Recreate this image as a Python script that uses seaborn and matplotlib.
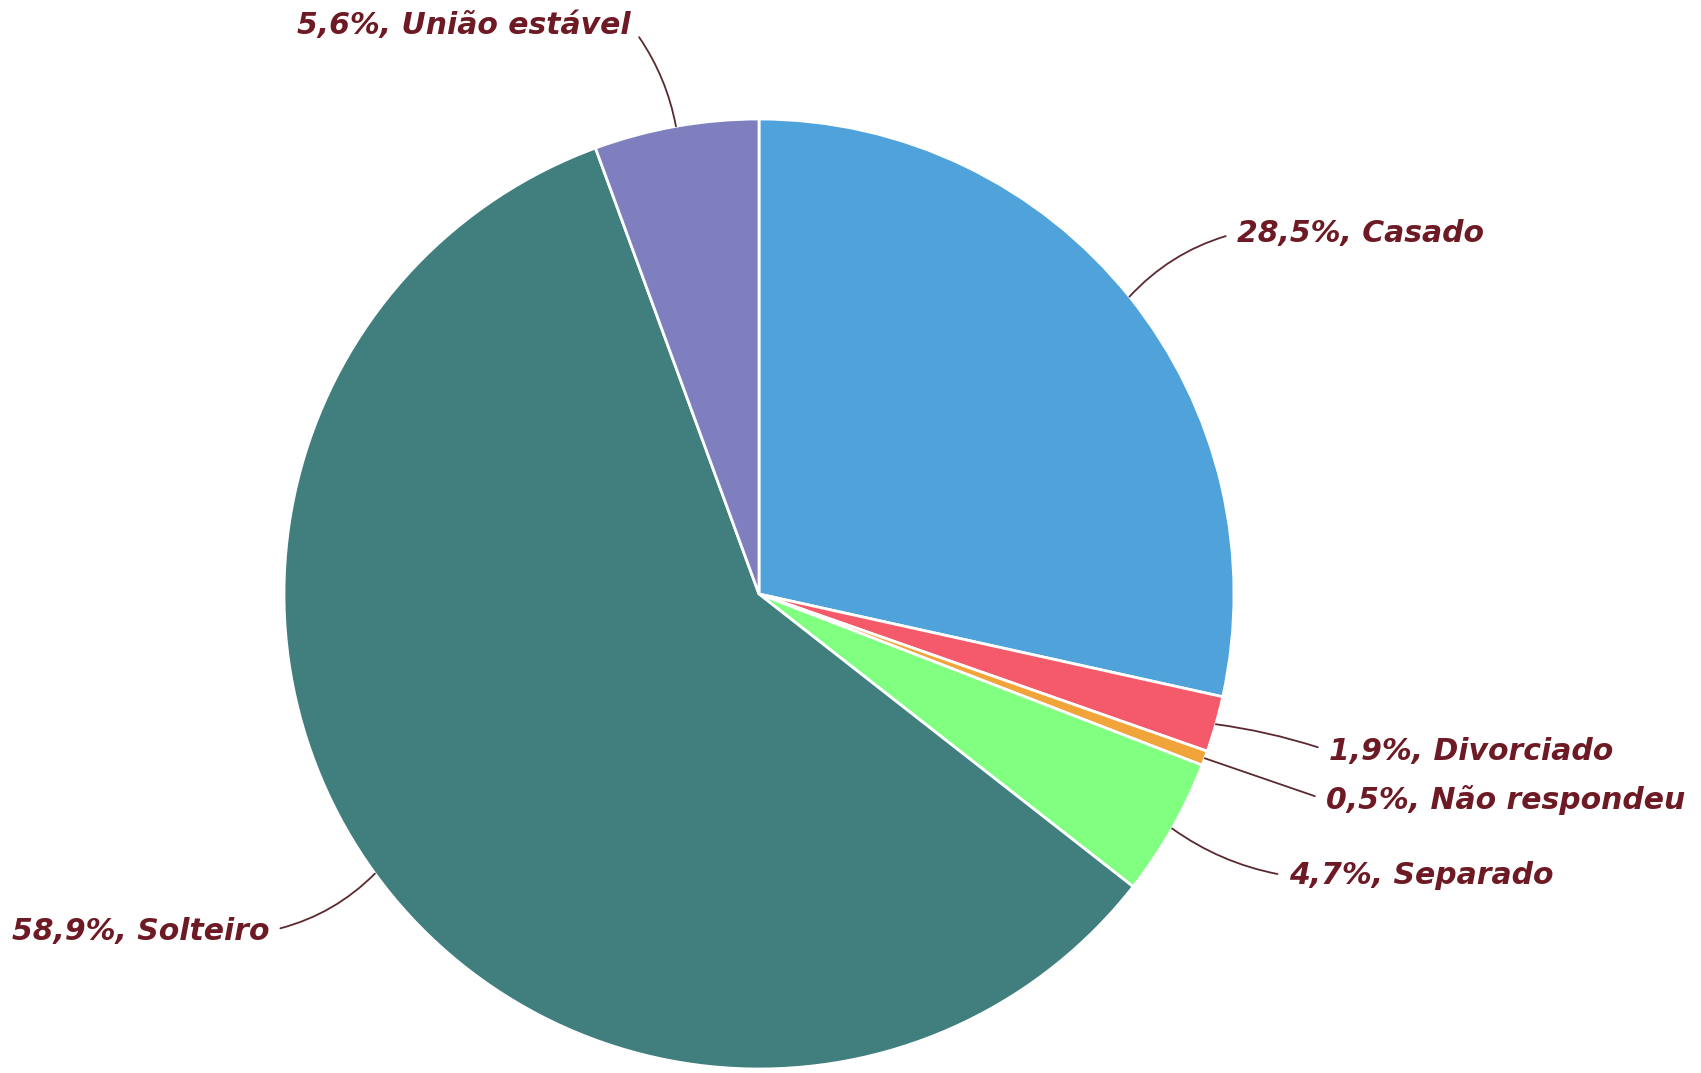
import matplotlib
matplotlib.use("Agg")
import matplotlib.pyplot as plt
import numpy as np
import seaborn as sns

# estado civil (%)
categorias = ["Casado", "Divorciado", "Não respondeu", "Separado", "Solteiro", "União estável"]
valores = [28.5, 1.9, 0.5, 4.7, 58.9, 5.6]
cores = ["#4fa3da", "#f45a6a", "#f0a43a", "#80ff80", "#417e7e", "#7f7fbf"]

# posição dos rótulos em pixels (x, y de cima) e alinhamento
pos_rotulos = [(1237, 233), (1329, 751), (1326, 800), (1289, 876), (269, 931), (631, 26)]
alinhamento = ["left", "left", "left", "left", "right", "right"]
curvas = [0.15, 0.05, 0.0, -0.12, 0.15, -0.12]

W, H = 1701, 1073
centro = (759, H - 594)
raio = 475

sns.set_theme(style="white")
plt.rcParams["font.family"] = ["DejaVu Sans"]

fig = plt.figure(figsize=(W / 100, H / 100), dpi=100)
ax = fig.add_axes([0, 0, 1, 1])

wedges, _ = ax.pie(valores, colors=cores, startangle=90, counterclock=False,
                   center=centro, radius=raio, frame=True,
                   wedgeprops=dict(edgecolor="white", linewidth=2))
ax.set_xlim(0, W)
ax.set_ylim(0, H)
ax.set_aspect("equal")
ax.axis("off")

total = sum(valores)
acum = np.cumsum([0] + valores[:-1])
for i, (cat, v) in enumerate(zip(categorias, valores)):
    ang = np.deg2rad(90 - 360 * (acum[i] + v / 2) / total)
    ponto = (centro[0] + raio * np.cos(ang), centro[1] + raio * np.sin(ang))
    tx, ty = pos_rotulos[i]
    texto = f"{v:.1f}%, {cat}".replace(".", ",")
    ax.annotate(texto, xy=ponto, xytext=(tx, H - ty),
                ha=alinhamento[i], va="center", fontsize=21.5,
                fontweight="bold", fontstyle="italic", color="#6e1a24",
                arrowprops=dict(arrowstyle="-", color="#5a2a30", lw=1.3,
                                shrinkA=6, shrinkB=0,
                                relpos=(0, 0.5) if alinhamento[i] == "left" else (1, 0.5),
                                connectionstyle=f"arc3,rad={curvas[i]}"))

fig.savefig("out.png", dpi=100, facecolor="white")
